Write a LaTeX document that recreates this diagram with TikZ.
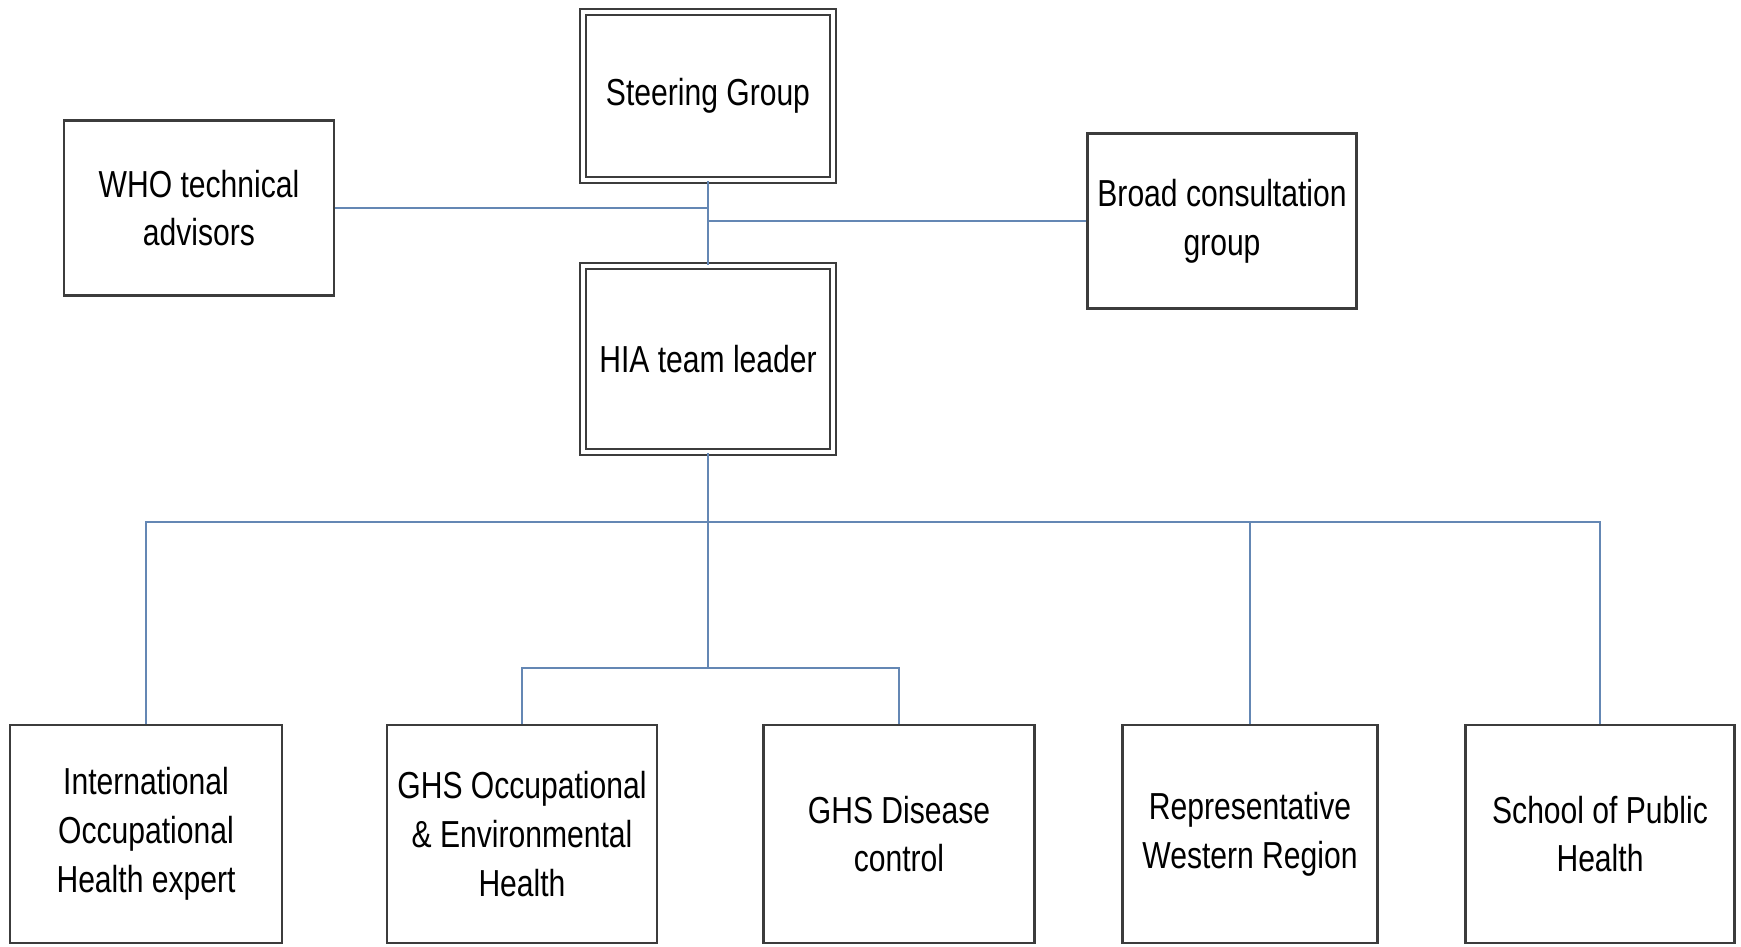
\documentclass[tikz,border=0pt]{standalone}
\usepackage{fontspec}
\setmainfont[FakeStretch=0.8]{Liberation Sans}
\definecolor{linkblue}{RGB}{100,135,180}
\definecolor{boxgray}{RGB}{60,60,60}
\tikzset{box/.style = {draw=boxgray, line width=0.8pt, fill=white, align=center, inner sep=0pt,
                       font=\fontsize{10.7}{13.9}\selectfont},
         lead/.style = {box, double=white, double distance=0.9pt, line width=0.7pt},
         link/.style = {draw=linkblue, line width=0.6pt}}

\begin{document}
\begin{tikzpicture}
\useasboundingbox (0,0) rectangle (17.41,9.46);
\node[lead, minimum width=2.50cm, minimum height=1.68cm] (steer) at (7.08,8.50) {Steering Group};
\node[lead, minimum width=2.50cm, minimum height=1.86cm] (hia) at (7.08,5.87) {HIA team leader};
\node[box, minimum width=2.70cm, minimum height=1.75cm] (who) at (1.99,7.38) {WHO technical\\advisors};
\node[box, minimum width=2.69cm, minimum height=1.75cm] (broad) at (12.22,7.25) {Broad consultation\\group};
\node[box, minimum width=2.72cm, minimum height=2.18cm] (intl) at (1.46,1.12) {International\\Occupational\\Health expert};
\node[box, minimum width=2.70cm, minimum height=2.18cm] (occ) at (5.22,1.12) {GHS Occupational\\\& Environmental\\Health};
\node[box, minimum width=2.71cm, minimum height=2.18cm] (dis) at (8.99,1.12) {GHS Disease\\control};
\node[box, minimum width=2.55cm, minimum height=2.18cm] (rep) at (12.50,1.12) {Representative\\Western Region};
\node[box, minimum width=2.69cm, minimum height=2.18cm] (school) at (16.00,1.12) {School of Public\\Health};
\coordinate (bus) at (7.08,4.24);
\coordinate (sub) at (7.08,2.78);
\draw[link] (steer) -- (hia);
\draw[link] (who) -- (who -| steer);
\draw[link] (broad) -- (broad -| steer);
\draw[link] (hia) -- (sub);
\draw[link] (intl) |- (bus) -| (school);
\draw[link] (rep) -- (rep |- bus);
\draw[link] (occ) |- (sub) -| (dis);
\end{tikzpicture}
\end{document}
